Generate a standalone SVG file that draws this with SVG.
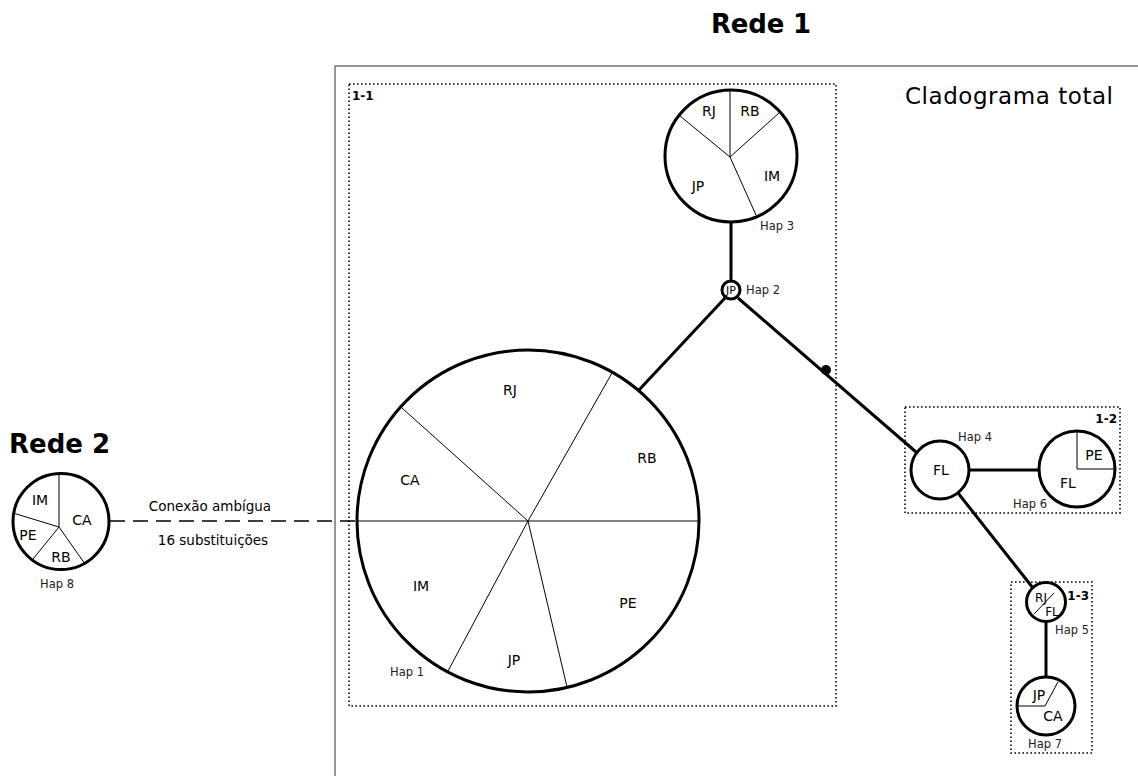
<svg xmlns="http://www.w3.org/2000/svg" width="1138" height="776" viewBox="0 0 1138 776">
<style>
.hap{fill:#fff;stroke:#000;stroke-width:3}
.div{stroke:#000;stroke-width:1;fill:none}
.con{stroke:#000;stroke-width:3;fill:none}
.box{fill:none;stroke:#000;stroke-width:1.6;stroke-dasharray:1.6 2.4}
text{font-family:"DejaVu Sans","Liberation Sans",sans-serif;fill:#000}
.lab{font-size:14px;text-anchor:middle}
.hl{font-size:11.5px;fill:#222}
.bt{font-weight:bold;font-size:12px}
.title{font-weight:bold;font-size:26px}
</style>
<rect width="1138" height="776" fill="#fff"/>
<path d="M335,776 V66 H1138" fill="none" stroke="#777" stroke-width="1.5"/>
<text x="1113" y="104" font-size="23" text-anchor="end" textLength="208">Cladograma total</text>
<text class="title" x="711" y="33" textLength="100">Rede 1</text>
<text class="title" x="9" y="453" textLength="101">Rede 2</text>
<g id="box1-1"><rect class="box" x="349" y="84" width="487" height="622"/><text class="bt" x="352" y="100">1-1</text></g>
<g id="box1-2"><rect class="box" x="905" y="407" width="215" height="106"/><text class="bt" x="1117" y="423" text-anchor="end">1-2</text></g>
<g id="box1-3"><rect class="box" x="1011" y="582" width="81" height="171"/><text class="bt" x="1089" y="600" text-anchor="end">1-3</text></g>
<g id="connectors">
<line class="con" x1="731" y1="223" x2="731" y2="281"/>
<line class="con" x1="639" y1="390" x2="725" y2="298"/>
<line class="con" x1="738" y1="298" x2="916" y2="452"/>
<circle cx="826" cy="370" r="5" fill="#000"/>
<line class="con" x1="969" y1="470" x2="1039" y2="470"/>
<line class="con" x1="958" y1="493" x2="1033" y2="588"/>
<line class="con" x1="1046" y1="622" x2="1046" y2="677"/>
<line stroke="#000" stroke-width="1.6" stroke-dasharray="15 8" x1="110" y1="521" x2="357" y2="521"/>
<text x="210" y="511" font-size="13.5" text-anchor="middle">Conexão ambígua</text>
<text x="213" y="545" font-size="13.5" text-anchor="middle">16 substituições</text>
</g>
<g id="hap1">
<circle class="hap" cx="528" cy="521" r="171"/>
<path class="div" d="M357,521 H699 M528,521 L402,408 M528,521 L612,373 M528,521 L448,671 M528,521 L567,687"/>
<text class="lab" x="510" y="395">RJ</text>
<text class="lab" x="647" y="463">RB</text>
<text class="lab" x="410" y="485">CA</text>
<text class="lab" x="421" y="591">IM</text>
<text class="lab" x="628" y="608">PE</text>
<text class="lab" x="514" y="665">JP</text>
<text class="hl" x="390" y="676">Hap 1</text>
</g>
<g id="hap2">
<circle class="hap" cx="731" cy="290" r="9" stroke-width="2.5"/>
<text x="731" y="294" font-size="11" text-anchor="middle">JP</text>
<text class="hl" x="746" y="294">Hap 2</text>
</g>
<g id="hap3">
<circle class="hap" cx="731" cy="156" r="66"/>
<path class="div" d="M730,157 V90 M730,157 L680,116 M730,157 L779,113 M730,157 L756,215"/>
<text class="lab" x="709" y="116">RJ</text>
<text class="lab" x="750" y="116">RB</text>
<text class="lab" x="772" y="181">IM</text>
<text class="lab" x="698" y="191">JP</text>
<text class="hl" x="760" y="230">Hap 3</text>
</g>
<g id="hap4">
<circle class="hap" cx="940" cy="470" r="29"/>
<text class="lab" x="941" y="475">FL</text>
<text class="hl" x="958" y="441">Hap 4</text>
</g>
<g id="hap6">
<circle class="hap" cx="1077" cy="469" r="38"/>
<path class="div" d="M1077,469 V431 M1077,469 H1114"/>
<text class="lab" x="1094" y="460">PE</text>
<text class="lab" x="1068" y="488">FL</text>
<text class="hl" x="1013" y="508">Hap 6</text>
</g>
<g id="hap5">
<circle class="hap" cx="1046" cy="602" r="19.5"/>
<path class="div" d="M1034,614 L1054,593"/>
<text x="1041" y="602" font-size="12" text-anchor="middle">RJ</text>
<text x="1052" y="616" font-size="12" text-anchor="middle">FL</text>
<text class="hl" x="1055" y="634">Hap 5</text>
</g>
<g id="hap7">
<circle class="hap" cx="1046" cy="706" r="29"/>
<path class="div" d="M1018,706 H1045 L1058,682"/>
<text class="lab" x="1039" y="700">JP</text>
<text class="lab" x="1053" y="721">CA</text>
<text class="hl" x="1028" y="748">Hap 7</text>
</g>
<g id="hap8">
<circle class="hap" cx="61" cy="521.5" r="48"/>
<path class="div" d="M59,474 V527 L13,513 M59,527 L33,559 M59,527 L85,564"/>
<text class="lab" x="40" y="505">IM</text>
<text class="lab" x="82" y="525">CA</text>
<text class="lab" x="28" y="540">PE</text>
<text class="lab" x="61" y="562">RB</text>
<text class="hl" x="40" y="588">Hap 8</text>
</g>
</svg>
